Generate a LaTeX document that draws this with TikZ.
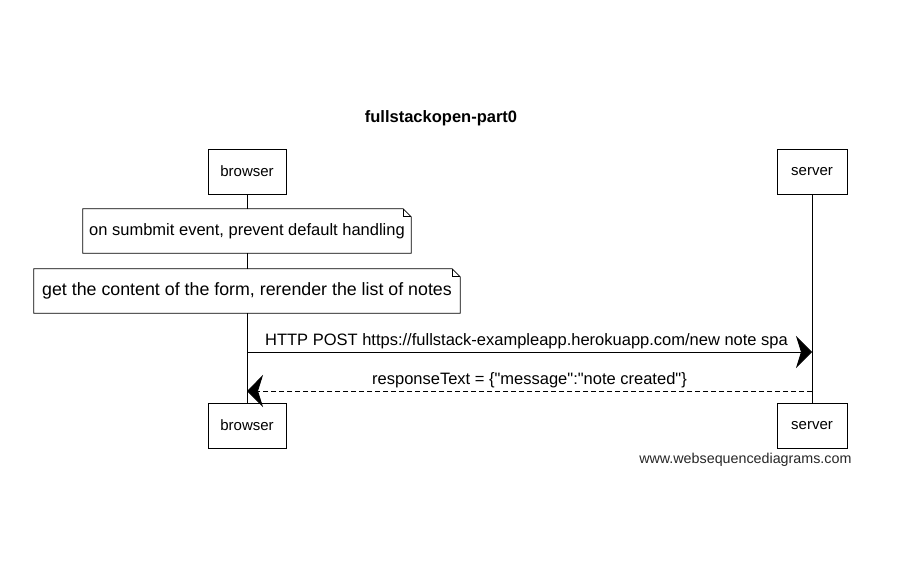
\documentclass[tikz,border=0pt]{standalone}
\usepackage{fontspec}
\setmainfont{Liberation Sans}
\usetikzlibrary{arrows.meta}
\begin{document}
\begin{tikzpicture}[x=1pt,y=-1pt,
    actor/.style ={rectangle, draw, thick, fill=white, minimum height=45pt, inner sep=0pt, font=\fontsize{15}{18}\selectfont},
    notebox/.style ={rectangle, fill=white, minimum height=44pt, inner sep=0pt, font=\fontsize{16.5}{19}\selectfont},
    message/.style ={thick, -{Stealth[length=16pt,width=32pt,inset=5pt]}},
    msgtext/.style ={font=\fontsize{16.5}{19}\selectfont, inner sep=3pt}]
   \useasboundingbox (0,0) rectangle (912,562);

   \node[font=\bfseries\fontsize{16.5}{19}\selectfont] (title) at (441,118) {fullstackopen-part0};

   \node[actor, minimum width=78pt] (browserTop) at (247,171.5) {browser};
   \node[actor, minimum width=70pt] (serverTop)  at (812,171.5) {server};
   \node[actor, minimum width=78pt] (browserBot) at (247,425.5) {browser};
   \node[actor, minimum width=70pt] (serverBot)  at (812,425.5) {server};

   \node[notebox, minimum width=328pt] (note1) at (247,231) {on sumbmit event, prevent default handling};
   \node[notebox, minimum width=426pt, font=\fontsize{17.8}{20}\selectfont] (note2) at (247,291) {get the content of the form, rerender the list of notes};

   \foreach \n in {note1,note2} {
     \draw[thick] (\n.south west) -- (\n.north west) -- ([xshift=-8pt]\n.north east)
       -- ([yshift=-8pt]\n.north east) -- (\n.south east) -- cycle;
     \draw[thick] ([xshift=-8pt]\n.north east) -- ([xshift=-8pt,yshift=-8pt]\n.north east)
       -- ([yshift=-8pt]\n.north east);
   }

   \draw[thick] (browserTop) to (note1);
   \draw[thick] (note1) to (note2);
   \draw[thick] (note2) to (browserBot);
   \draw[thick] (serverTop) to (serverBot);

   \coordinate (bPost) at (247,352);
   \coordinate (sPost) at (812,352);
   \coordinate (sResp) at (812,391);
   \coordinate (bResp) at (247,391);

   \draw[message] (bPost) -- (sPost)
     node[msgtext, midway, above, xshift=-3pt] (post) {HTTP POST https://fullstack-exampleapp.herokuapp.com/new note spa};
   \draw[message, dash pattern=on 5pt off 3pt] (sResp) -- (bResp)
     node[msgtext, midway, above] (resp) {responseText = \{\textquotedbl message\textquotedbl:\textquotedbl note created\textquotedbl\}};

   \node[anchor=base east, font=\fontsize{14.3}{16}\selectfont, text=black!85] (credit) at (855,463) {www.websequencediagrams.com};
 \end{tikzpicture}
\end{document}
